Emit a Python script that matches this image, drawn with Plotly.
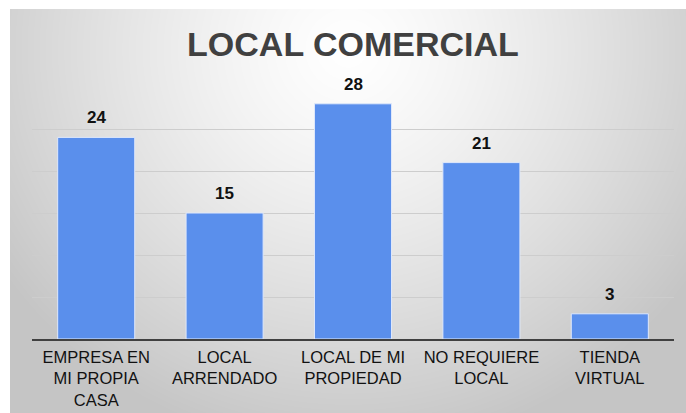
import base64
import struct
import zlib

import numpy as np
import plotly.graph_objects as go

# ---- data ----
categories = ["EMPRESA EN<br>MI PROPIA<br>CASA", "LOCAL<br>ARRENDADO", "LOCAL DE MI<br>PROPIEDAD",
              "NO REQUIERE<br>LOCAL", "TIENDA<br>VIRTUAL"]
values = [24, 15, 28, 21, 3]
title_text = "LOCAL COMERCIAL"

# ---- background gradient (style only) ----
def gradient_png(w, h):
    yy, xx = np.mgrid[0:h, 0:w]
    cx, cy = w * 0.5, h * 0.1
    d = np.sqrt(((xx - cx) / (w * 0.62)) ** 2 + ((yy - cy) / (h * 1.0)) ** 2)
    v = (255 - 58 * np.clip(d, 0, 1) ** 1.3).astype(np.uint8)
    raw = b"".join(b"\x00" + v[r].tobytes() for r in range(h))

    def chunk(tag, data):
        c = struct.pack(">I", len(data)) + tag + data
        return c + struct.pack(">I", zlib.crc32(tag + data) & 0xFFFFFFFF)

    png = b"\x89PNG\r\n\x1a\n"
    png += chunk(b"IHDR", struct.pack(">IIBBBBB", w, h, 8, 0, 0, 0, 0))
    png += chunk(b"IDAT", zlib.compress(raw, 9))
    png += chunk(b"IEND", b"")
    return "data:image/png;base64," + base64.b64encode(png).decode()

FIG_W, FIG_H = 686, 413
ML, MR, MT, MB = 32, 12, 87, 74
PW, PH = FIG_W - ML - MR, FIG_H - MT - MB
box_x0, box_y0 = 10, 9  # pixel origin of chart box

bg = gradient_png(FIG_W - box_x0, FIG_H - box_y0)

fig = go.Figure()
fig.add_trace(go.Bar(
    x=categories, y=values,
    marker=dict(color="#5A8FEC", line=dict(color="#dfe8fb", width=1)),
    hoverinfo="x+y",
))

for c, v in zip(categories, values):
    fig.add_annotation(x=c, y=v, text=f"<b>{v}</b>", showarrow=False,
                       yanchor="bottom", yshift=8,
                       font=dict(family="Liberation Sans, Arial", size=17, color="#111111"))

fig.update_layout(
    width=FIG_W, height=FIG_H,
    margin=dict(l=ML, r=MR, t=MT, b=MB, autoexpand=False),
    paper_bgcolor="white",
    plot_bgcolor="rgba(0,0,0,0)",
    bargap=0.4,
    showlegend=False,
    title=dict(text=f"<b>{title_text}</b>", x=(ML + PW / 2) / FIG_W, xanchor="center",
               y=1 - 56 / FIG_H, yanchor="bottom",
               font=dict(family="Liberation Sans, Arial", size=34, color="#404040")),
    images=[dict(source=bg, xref="paper", yref="paper",
                 x=(box_x0 - ML) / PW, y=1 + (MT - box_y0) / PH,
                 sizex=(FIG_W - box_x0) / PW, sizey=(FIG_H - box_y0) / PH,
                 xanchor="left", yanchor="top", sizing="stretch", layer="below")],
    xaxis=dict(showline=True, linecolor="#404040", linewidth=2, ticks="", automargin=False,
               ticklabelstandoff=2,
               tickfont=dict(family="Liberation Sans, Arial", size=16.5, color="#111111"),
               showgrid=False),
    yaxis=dict(range=[0, 30], dtick=5, showticklabels=False, showgrid=True, automargin=False,
               gridcolor="#cdcdcd", gridwidth=1, zeroline=False, showline=False),
)

fig.write_html("out.html")
